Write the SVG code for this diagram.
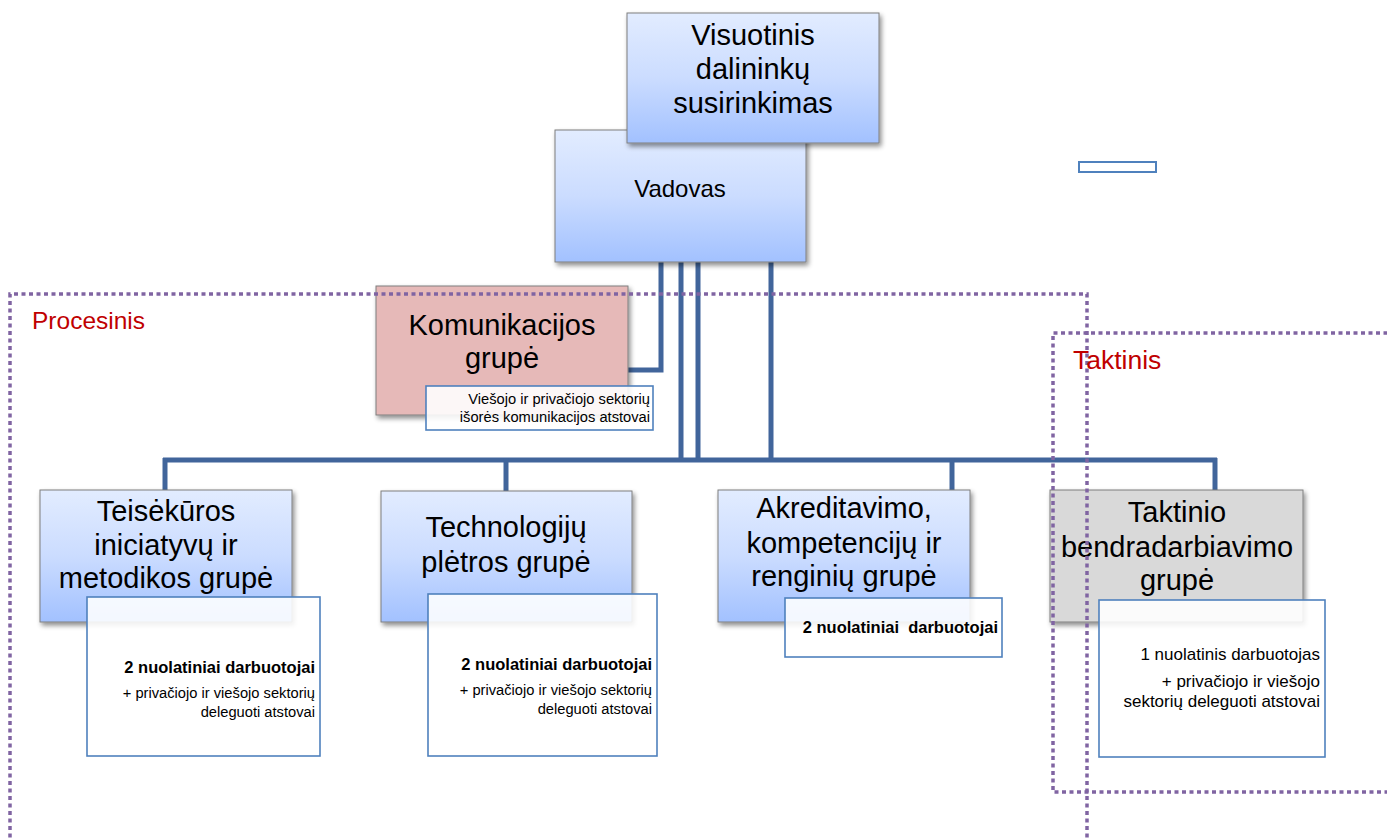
<svg xmlns="http://www.w3.org/2000/svg" width="1387" height="839" viewBox="0 0 1387 839">
<defs>
<linearGradient id="blue" x1="0" y1="0" x2="0" y2="1">
<stop offset="0" stop-color="#e2ecff"/>
<stop offset="0.5" stop-color="#cbdcff"/>
<stop offset="1" stop-color="#a2c1ff"/>
</linearGradient>
<filter id="sh" x="-10%" y="-10%" width="125%" height="130%">
<feGaussianBlur in="SourceAlpha" stdDeviation="2.5"/>
<feOffset dx="2" dy="3" result="b"/>
<feComponentTransfer><feFuncA type="linear" slope="0.45"/></feComponentTransfer>
<feMerge><feMergeNode/><feMergeNode in="SourceGraphic"/></feMerge>
</filter>
</defs>
<style>
.box{stroke:#7f7f7f;stroke-width:1;filter:url(#sh)}
.bl{fill:url(#blue)}
.sub{fill:#ffffff;fill-opacity:0.88;stroke:#4f81bd;stroke-width:1.6}
.t{font-family:"Liberation Sans",Arial,sans-serif;fill:#000}
.big{font-size:29px;text-anchor:middle}
.sm{font-size:14.7px;text-anchor:end}
.bd{font-size:16.5px;font-weight:bold;text-anchor:end}
.md{font-size:17px;text-anchor:end}
.con{fill:none;stroke:#41659b;stroke-width:5}
.dot{fill:none;stroke:#8064a2;stroke-width:3.5;stroke-dasharray:4 3.5}
.lab{font-family:"Liberation Sans",Arial,sans-serif;fill:#c00000}
</style>
<g id="connectors">
<polyline class="con" points="661,262 661,370 628,370"/>
<line class="con" x1="681" y1="262" x2="681" y2="460"/>
<line class="con" x1="698" y1="262" x2="698" y2="460"/>
<line class="con" x1="771" y1="262" x2="771" y2="460"/>
<line class="con" x1="163" y1="460" x2="1217" y2="460"/>
<line class="con" x1="165" y1="458" x2="165" y2="492"/>
<line class="con" x1="506" y1="458" x2="506" y2="492"/>
<line class="con" x1="952" y1="458" x2="952" y2="492"/>
<line class="con" x1="1215" y1="458" x2="1215" y2="492"/>
</g>
<g id="vadovas">
<rect class="box bl" x="555" y="130" width="251" height="132"/>
<text class="t" x="680" y="197" font-size="24" text-anchor="middle">Vadovas</text>
</g>
<g id="visuotinis">
<rect class="box bl" x="627" y="13" width="252" height="130"/>
<text class="t big" x="753" y="45">Visuotinis</text>
<text class="t big" x="753" y="79">dalininkų</text>
<text class="t big" x="753" y="113">susirinkimas</text>
</g>
<g id="komunikacijos">
<rect class="box" fill="#e6b9b8" x="376" y="286" width="252" height="129"/>
<text class="t big" x="502" y="335">Komunikacijos</text>
<text class="t big" x="502" y="368">grupė</text>
<rect class="sub" x="426" y="386" width="227" height="44"/>
<text class="t sm" x="650" y="404">Viešojo ir privačiojo sektorių</text>
<text class="t sm" x="650" y="422">išorės komunikacijos atstovai</text>
</g>
<g id="teisekuros">
<rect class="box bl" x="40" y="490" width="252" height="132"/>
<text class="t big" x="166" y="521">Teisėkūros</text>
<text class="t big" x="166" y="555">iniciatyvų ir</text>
<text class="t big" x="166" y="588">metodikos grupė</text>
<rect class="sub" x="87" y="597" width="233" height="159"/>
<text class="t bd" x="315" y="673">2 nuolatiniai darbuotojai</text>
<text class="t sm" x="315" y="698">+ privačiojo ir viešojo sektorių</text>
<text class="t sm" x="315" y="717">deleguoti atstovai</text>
</g>
<g id="technologiju">
<rect class="box bl" x="381" y="491" width="251" height="131"/>
<text class="t big" x="506" y="537">Technologijų</text>
<text class="t big" x="506" y="572">plėtros grupė</text>
<rect class="sub" x="428" y="594" width="229" height="162"/>
<text class="t bd" x="652" y="670">2 nuolatiniai darbuotojai</text>
<text class="t sm" x="652" y="695">+ privačiojo ir viešojo sektorių</text>
<text class="t sm" x="652" y="714">deleguoti atstovai</text>
</g>
<g id="akreditavimo">
<rect class="box bl" x="718" y="490" width="252" height="132"/>
<text class="t big" x="844" y="518">Akreditavimo,</text>
<text class="t big" x="844" y="553">kompetencijų ir</text>
<text class="t big" x="844" y="586">renginių grupė</text>
<rect class="sub" x="785" y="598" width="217" height="59"/>
<text class="t bd" x="998" y="633" font-size="17" xml:space="preserve">2 nuolatiniai  darbuotojai</text>
</g>
<g id="taktinio">
<rect class="box" fill="#d9d9d9" x="1050" y="490" width="253" height="132"/>
<text class="t big" x="1177" y="522">Taktinio</text>
<text class="t big" x="1177" y="557">bendradarbiavimo</text>
<text class="t big" x="1177" y="590">grupė</text>
<rect class="sub" x="1099" y="600" width="226" height="157"/>
<text class="t md" x="1320" y="660">1 nuolatinis darbuotojas</text>
<text class="t md" x="1320" y="687">+ privačiojo ir viešojo</text>
<text class="t md" x="1320" y="707">sektorių deleguoti atstovai</text>
</g>
<g id="small-box">
<rect x="1079" y="162" width="77" height="10" fill="#ffffff" stroke="#4f81bd" stroke-width="2"/>
</g>
<g id="procesinis">
<polyline class="dot" points="10,845 10,294 1087,294 1087,845"/>
<text class="lab" x="32" y="329" font-size="24.5">Procesinis</text>
</g>
<g id="taktinis">
<polyline class="dot" points="1395,333 1053,333 1053,792 1395,792"/>
<text class="lab" x="1073" y="369" font-size="26.5">Taktinis</text>
</g>
</svg>
